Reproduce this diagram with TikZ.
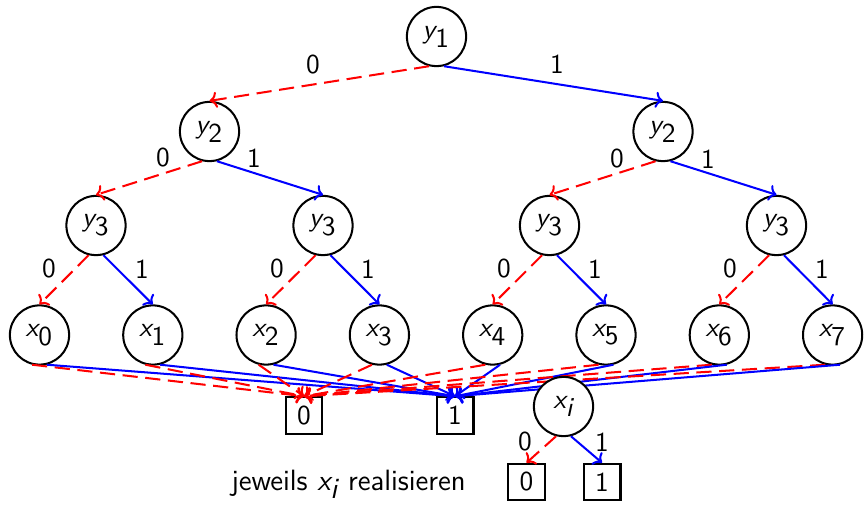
\documentclass[tikz,border=0pt]{standalone}
\usepackage{fontspec}
\usetikzlibrary{arrows.meta}
\begin{document}
\begin{tikzpicture}[x=0.013889cm, y=-0.013889cm,
  every node/.style={font=\sffamily\fontsize{10.8}{13}\selectfont},
  var/.style={draw, circle, line width=0.8pt, minimum size=23.4pt, inner sep=0pt},
  leaf/.style={draw, rectangle, line width=0.8pt, minimum width=14.6pt, minimum height=14.4pt, inner sep=0pt},
  lbl/.style={inner sep=0pt},
  zero/.style={-{To[length=3pt,width=6.4pt]}, red, line width=0.8pt, dash pattern=on 6pt off 3pt},
  one/.style={-{To[length=3pt,width=6.4pt]}, blue, line width=0.8pt}]
\newcommand\vr[2]{$\textsf{\itshape #1}_{\textsf{#2}}$}
\newcommand\vri[1]{$\textsf{\itshape #1}_{\textsf{\itshape i}}$}
\useasboundingbox (0,0) rectangle (864,506);

% decision nodes
\node[var] (y1) at (436.5,36.5) {\vr{y}{1}};
\node[var] (y2a) at (209.5,131.5) {\vr{y}{2}};
\node[var] (y2b) at (663,131.5) {\vr{y}{2}};
\node[var] (y3a) at (96,225.5) {\vr{y}{3}};
\node[var] (y3b) at (323,225.5) {\vr{y}{3}};
\node[var] (y3c) at (549.5,225.5) {\vr{y}{3}};
\node[var] (y3d) at (776.5,225.5) {\vr{y}{3}};
\foreach \i in {0,...,7}
  \node[var] (x\i) at ({39.5+113.3*\i},335) {\vr{x}{\i}};

% sinks
\node[leaf] (f0) at (304,415.5) {0};
\node[leaf] (f1) at (455,415.5) {1};

% edges of the tree
\draw[zero] (y1.-104) -- (y2a.north);
\draw[one]  (y1.-76)  -- (y2b.north);
\draw[zero] (y2a.-104) -- (y3a.north);
\draw[one]  (y2a.-76)  -- (y3b.north);
\draw[zero] (y2b.-104) -- (y3c.north);
\draw[one]  (y2b.-76)  -- (y3d.north);
\draw[zero] (y3a.-104) -- (x0.north);
\draw[one]  (y3a.-76)  -- (x1.north);
\draw[zero] (y3b.-104) -- (x2.north);
\draw[one]  (y3b.-76)  -- (x3.north);
\draw[zero] (y3c.-104) -- (x4.north);
\draw[one]  (y3c.-76)  -- (x5.north);
\draw[zero] (y3d.-104) -- (x6.north);
\draw[one]  (y3d.-76)  -- (x7.north);

% edge labels
\node[lbl] (l1a) at (313,65) {0};
\node[lbl] (l1b) at (557,64) {1};
\node[lbl] (l2a) at (163,158) {0};
\node[lbl] (l2b) at (254,158) {1};
\node[lbl] (l2c) at (617,159) {0};
\node[lbl] (l2d) at (708,159) {1};
\node[lbl] (l3a) at (49,269) {0};
\node[lbl] (l3b) at (142,269) {1};
\node[lbl] (l3c) at (277,269) {0};
\node[lbl] (l3d) at (368,269) {1};
\node[lbl] (l3e) at (504,269) {0};
\node[lbl] (l3f) at (595,269) {1};
\node[lbl] (l3g) at (730,269) {0};
\node[lbl] (l3h) at (822,269) {1};

% every variable goes to both sinks
\foreach \i in {0,...,7} {
  \draw[zero] (x\i.-104) -- (f0.north);
  \draw[one]  (x\i.-76)  -- (f1.north);
}

% realisation of a single x_i
\node[var, fill=white] (xi) at (563.5,406.5) {\vri{x}};
\node[leaf] (g0) at (526.5,482) {0};
\node[leaf] (g1) at (602,482) {1};
\draw[zero] (xi.-104) -- (g0.north);
\draw[one]  (xi.-76)  -- (g1.north);
\node[lbl] (li0) at (525,442) {0};
\node[lbl] (li1) at (602,442) {1};

\node[lbl, anchor=base] (txt) at (348.5,490) {\fontsize{11.6}{14}\selectfont jeweils \vri{x} realisieren};
\end{tikzpicture}
\end{document}
